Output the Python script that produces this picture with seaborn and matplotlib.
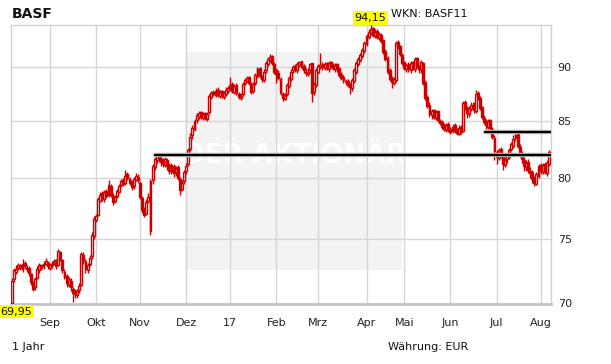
import numpy as np
import pandas as pd
import matplotlib
matplotlib.use("Agg")
import matplotlib.pyplot as plt
from matplotlib.patches import Rectangle
from matplotlib.ticker import FixedLocator, NullLocator, FixedFormatter
import seaborn as sns

# ---------------- data (daily candles, trading-day index) ----------------
open_ = [
70.0, 71.8, 72.4, 72.7, 72.9, 72.6, 73.1, 72.7, 72.7, 72.2,
71.5, 71.2, 71.9, 72.5, 72.9, 72.8, 73.0, 73.1, 72.7, 72.9,
73.1, 73.3, 72.9, 73.9, 73.3, 72.4, 72.1, 71.4, 71.7, 71.1,
70.9, 70.6, 71.0, 71.4, 73.7, 73.2, 72.5, 73.0, 73.6, 75.2,
76.5, 76.9, 78.1, 78.7, 78.2, 78.9, 78.6, 79.3, 78.5, 78.1,
78.5, 78.8, 79.4, 79.8, 79.6, 80.3, 79.9, 79.7, 79.3, 79.8,
80.1, 79.6, 78.3, 77.4, 77.0, 78.1, 75.6, 79.8, 80.9, 81.5,
81.9, 81.6, 81.5, 81.1, 81.5, 81.1, 80.5, 81.0, 80.5, 80.9,
79.9, 79.1, 79.7, 80.6, 81.2, 82.5, 83.7, 84.3, 85.1, 85.4,
85.8, 85.3, 85.7, 85.2, 85.8, 87.2, 87.7, 87.4, 87.9, 87.3,
87.8, 87.2, 87.5, 87.8, 88.1, 88.4, 87.7, 88.3, 87.5, 87.1,
87.5, 88.5, 88.7, 89.1, 88.4, 87.8, 88.5, 89.2, 89.9, 89.1,
88.8, 89.7, 90.3, 90.7, 91.1, 90.3, 89.7, 89.5, 88.9, 87.5,
87.0, 87.5, 88.2, 88.9, 89.7, 90.1, 89.7, 90.2, 90.6, 90.1,
89.6, 89.4, 89.7, 90.4, 87.7, 88.3, 89.6, 90.0, 90.3, 89.9,
90.4, 89.8, 90.5, 90.2, 89.8, 90.3, 89.9, 89.4, 89.1, 88.7,
88.7, 88.4, 88.0, 88.7, 89.6, 90.3, 90.7, 91.1, 91.6, 92.3,
93.0, 93.4, 93.8, 93.1, 93.6, 92.9, 93.2, 92.7, 91.6, 90.9,
89.7, 89.0, 88.5, 88.8, 92.5, 92.1, 91.2, 90.5, 89.8, 90.3,
89.7, 90.5, 89.8, 90.9, 90.0, 89.7, 90.4, 88.6, 87.2, 86.5,
85.5, 86.0, 85.3, 85.9, 85.0, 84.9, 84.6, 84.2, 84.7, 84.3,
84.1, 84.6, 84.2, 83.8, 84.5, 84.1, 86.7, 86.2, 85.6, 86.1,
86.6, 85.9, 87.6, 87.1, 86.3, 85.3, 85.0, 84.5, 85.1, 84.3,
83.5, 82.2, 81.7, 82.5, 81.9, 81.1, 81.6, 81.8, 82.5, 82.8,
83.5, 83.8, 82.7, 82.1, 81.5, 80.9, 81.4, 80.6, 80.5, 80.0,
79.5, 80.2, 81.1, 80.5, 81.2, 80.4, 81.2]

close = [
71.7, 72.5, 72.6, 72.9, 72.7, 73.0, 72.8, 72.6, 72.3, 71.6,
71.1, 71.8, 72.6, 72.9, 72.7, 73.0, 73.2, 72.8, 72.9, 73.0,
73.2, 72.8, 74.0, 73.4, 72.5, 72.0, 71.5, 71.8, 71.2, 70.8,
70.7, 70.9, 71.3, 73.8, 73.3, 72.6, 72.9, 73.5, 75.3, 76.6,
76.8, 78.2, 78.6, 78.3, 78.8, 78.5, 79.4, 78.6, 78.0, 78.4,
78.9, 79.3, 79.7, 79.5, 80.2, 80.0, 79.6, 79.2, 79.9, 80.2,
79.8, 78.4, 77.3, 76.9, 78.0, 78.4, 79.7, 81.0, 81.6, 81.9,
81.7, 81.4, 81.2, 81.6, 81.0, 80.6, 81.1, 80.4, 80.8, 80.0,
79.0, 79.6, 80.5, 81.0, 82.4, 83.6, 84.4, 85.0, 85.5, 85.7,
85.4, 85.6, 85.3, 85.6, 87.3, 87.6, 87.5, 87.8, 87.4, 87.7,
87.3, 87.6, 87.9, 88.0, 88.3, 87.8, 88.2, 87.6, 87.2, 87.3,
88.4, 88.8, 89.0, 88.5, 87.7, 88.4, 89.3, 89.8, 89.2, 88.9,
89.6, 90.4, 90.8, 91.0, 90.4, 89.6, 89.4, 89.0, 87.6, 87.1,
87.4, 88.3, 89.0, 89.6, 90.0, 89.8, 90.3, 90.5, 90.0, 89.7,
89.5, 89.6, 90.3, 87.6, 88.4, 89.7, 90.1, 90.2, 90.0, 90.3,
89.9, 90.4, 90.1, 89.9, 90.2, 89.8, 89.3, 89.0, 88.8, 88.6,
88.3, 88.1, 88.8, 89.7, 90.4, 90.8, 91.2, 91.7, 92.4, 93.1,
93.5, 93.7, 93.2, 93.5, 93.0, 93.3, 92.6, 91.5, 90.8, 89.6,
88.9, 88.6, 88.9, 92.4, 92.0, 91.3, 90.4, 89.9, 90.2, 89.8,
90.4, 89.9, 90.8, 90.1, 89.8, 90.5, 88.5, 87.1, 86.4, 85.6,
85.9, 85.4, 85.8, 85.1, 84.8, 84.5, 84.3, 84.6, 84.2, 84.0,
84.5, 84.1, 83.9, 84.4, 84.0, 86.6, 86.3, 85.7, 86.2, 86.5,
86.0, 87.5, 87.2, 86.2, 85.4, 84.9, 84.6, 85.0, 84.4, 83.6,
82.3, 81.8, 82.4, 82.0, 81.2, 81.5, 81.9, 82.4, 82.9, 83.4,
83.7, 82.8, 82.0, 81.6, 81.0, 81.3, 80.7, 80.4, 79.9, 79.6,
80.3, 81.0, 80.6, 81.1, 80.5, 81.3, 82.2]

high = [
71.9, 72.7, 72.9, 73.1, 73.0, 73.4, 73.2, 72.9, 72.8, 72.3,
71.7, 72.0, 72.8, 73.1, 73.0, 73.2, 73.5, 73.2, 73.1, 73.2,
73.4, 73.4, 74.2, 74.0, 73.4, 72.6, 72.2, 72.0, 71.9, 71.2,
71.1, 71.1, 71.5, 73.9, 73.9, 73.4, 73.1, 73.7, 75.5, 76.8,
77.0, 78.4, 78.8, 78.9, 79.0, 79.1, 79.8, 79.5, 78.7, 78.6,
79.1, 79.5, 79.9, 80.0, 80.7, 80.5, 80.1, 79.8, 80.1, 80.4,
80.3, 79.7, 78.5, 77.6, 78.2, 78.7, 79.9, 81.2, 81.8, 82.0,
82.0, 81.9, 81.7, 81.8, 81.7, 81.3, 81.3, 81.2, 81.0, 81.1,
80.1, 79.8, 80.7, 81.3, 82.6, 83.9, 84.6, 85.2, 85.7, 85.9,
85.9, 85.8, 85.8, 85.8, 87.5, 87.8, 87.9, 88.0, 88.1, 87.9,
87.9, 87.8, 88.1, 88.2, 89.1, 88.6, 88.4, 88.5, 87.7, 87.6,
88.6, 89.0, 89.2, 89.2, 88.6, 88.6, 89.5, 90.0, 90.0, 89.3,
89.8, 90.6, 91.0, 91.3, 91.2, 90.5, 89.9, 89.7, 89.1, 87.7,
87.6, 88.5, 89.2, 89.8, 90.2, 90.3, 90.5, 90.6, 90.6, 90.3,
89.9, 89.9, 90.4, 90.4, 88.6, 89.9, 90.3, 91.4, 90.5, 90.5,
90.5, 90.6, 90.6, 90.4, 90.4, 90.4, 90.0, 89.6, 89.3, 88.9,
88.9, 88.5, 89.0, 89.9, 90.6, 91.0, 91.4, 91.9, 92.6, 93.3,
93.7, 94.15, 93.9, 93.7, 93.7, 93.5, 93.4, 92.8, 91.8, 91.1,
89.9, 89.2, 89.1, 92.6, 92.7, 92.2, 91.4, 90.6, 90.4, 90.5,
90.6, 90.6, 91.0, 91.0, 90.2, 90.7, 90.5, 88.8, 87.4, 86.7,
86.1, 86.1, 86.0, 86.0, 85.2, 85.1, 84.8, 84.8, 84.9, 84.5,
84.7, 84.8, 84.4, 84.6, 84.6, 86.8, 86.9, 86.4, 86.4, 86.7,
86.7, 87.9, 87.8, 87.3, 86.4, 85.5, 85.2, 85.2, 85.2, 84.5,
83.7, 82.4, 82.6, 82.7, 82.1, 81.8, 82.1, 82.6, 83.1, 83.7,
84.1, 83.9, 82.9, 82.3, 81.8, 81.5, 81.6, 80.9, 80.7, 80.2,
80.5, 81.2, 81.3, 81.3, 81.4, 81.5, 82.4]

low = [
69.95, 71.6, 72.2, 72.5, 72.5, 72.4, 72.6, 72.4, 72.1, 71.4,
70.9, 71.0, 71.8, 72.3, 72.5, 72.6, 72.9, 72.6, 72.5, 72.7,
72.9, 72.6, 72.8, 73.2, 72.3, 71.8, 71.2, 71.2, 70.9, 70.1,
70.4, 70.4, 70.8, 71.3, 73.0, 72.3, 72.3, 72.8, 73.4, 75.0,
76.3, 76.8, 78.0, 78.1, 78.0, 78.3, 78.4, 78.4, 77.7, 77.9,
78.3, 78.7, 79.2, 79.3, 79.4, 79.8, 79.4, 79.0, 79.1, 79.7,
79.6, 78.2, 77.1, 76.7, 76.9, 77.9, 75.3, 79.5, 80.7, 81.3,
81.4, 81.0, 80.9, 80.9, 80.7, 80.3, 80.3, 80.1, 80.2, 79.8,
78.6, 78.9, 79.5, 80.3, 81.0, 82.3, 83.4, 84.1, 84.8, 85.2,
85.2, 85.1, 85.1, 85.0, 85.6, 87.0, 87.3, 87.2, 87.2, 87.1,
87.1, 87.0, 87.3, 87.6, 87.9, 87.6, 87.5, 87.4, 87.0, 86.9,
87.3, 88.3, 88.6, 88.3, 87.5, 87.6, 88.3, 89.0, 89.0, 88.6,
88.6, 89.5, 90.1, 90.5, 90.2, 89.4, 88.5, 88.8, 87.4, 86.8,
86.9, 87.3, 88.0, 88.7, 89.5, 89.6, 89.5, 90.0, 89.8, 89.5,
89.2, 89.2, 89.5, 86.7, 87.4, 88.1, 89.4, 89.8, 89.7, 89.7,
89.7, 89.6, 89.9, 89.7, 89.6, 89.6, 89.1, 88.8, 88.5, 88.3,
88.1, 87.5, 87.8, 88.5, 89.4, 90.1, 90.5, 90.9, 91.4, 92.1,
92.8, 93.2, 93.0, 92.9, 92.8, 92.7, 92.4, 91.3, 90.6, 89.4,
88.7, 88.0, 88.3, 88.6, 91.8, 91.1, 90.2, 89.7, 89.6, 89.6,
89.5, 89.7, 89.6, 89.9, 89.5, 89.5, 88.3, 86.9, 86.2, 85.4,
85.2, 85.2, 85.1, 84.9, 84.6, 84.3, 84.1, 84.0, 84.0, 83.8,
83.9, 83.9, 83.7, 83.7, 83.8, 84.0, 86.0, 85.3, 85.4, 85.9,
85.7, 85.7, 86.9, 86.0, 85.2, 84.7, 84.3, 84.3, 84.2, 83.4,
81.5, 81.2, 81.5, 81.7, 80.7, 80.9, 81.3, 81.6, 82.3, 82.6,
83.2, 82.6, 81.8, 81.3, 80.6, 80.6, 80.4, 80.0, 79.6, 79.3,
79.4, 80.0, 80.3, 80.3, 80.3, 80.2, 81.0]

month_pos = [18, 40, 61, 83, 104, 126, 146, 169, 187, 209, 231, 252]
month_labels = ["Sep", "Okt", "Nov", "Dez", "17", "Feb", "Mrz", "Apr", "Mai", "Jun", "Jul", "Aug"]
y_ticks = [70, 75, 80, 85, 90]
level_values = [82.0, 84.0]
level_starts = [68, 225.5]
max_label = "94,15"
min_label = "69,95"

# ---------------- figure ----------------
sns.set_style("white")
plt.rcParams["font.family"] = ["DejaVu Sans"]

df = pd.DataFrame({"idx": np.arange(len(close)), "open": open_, "close": close,
                   "high": high, "low": low})

fig = plt.figure(figsize=(6.11, 3.64), dpi=100)
fig.patch.set_facecolor("white")
ax = fig.add_axes([11 / 611, 60 / 364, 539.7 / 611, 279 / 364])
ax.set_facecolor("white")

ax.set_yscale("log")
ax.set_ylim(69.95, 94.15)
ax.set_xlim(-0.5, 256.8)

# watermark panel
ax.add_patch(Rectangle((0.322, 0.122), 0.402, 0.781, transform=ax.transAxes,
                       facecolor="#f3f3f3", edgecolor="none", zorder=0))
ax.text(0.525, 0.53, "DER AKTIONÄR", transform=ax.transAxes, ha="center", va="center",
        fontsize=19, fontweight="bold", color="white", alpha=0.95, zorder=0.5)

# grid
for p in month_pos:
    ax.axvline(p, color="#d6d6d6", lw=1.0, zorder=1)
for t in y_ticks[1:]:
    ax.axhline(t, color="#d6d6d6", lw=1.0, zorder=1)

red = "#cc0000"
# wicks
ax.vlines(df["idx"], df["low"], df["high"], color=red, lw=1.0, zorder=3)
# bodies
bottoms = np.minimum(df["open"], df["close"])
heights = np.maximum(np.abs(df["close"] - df["open"]), 0.05)
up = df["close"] >= df["open"]
ax.bar(df["idx"][up], heights[up], bottom=bottoms[up], width=0.9,
       facecolor="white", edgecolor=red, linewidth=1.0, zorder=4)
ax.bar(df["idx"][~up], heights[~up], bottom=bottoms[~up], width=0.9,
       facecolor=red, edgecolor=red, linewidth=1.0, zorder=4)

# support / resistance lines
for lv, st in zip(level_values, level_starts):
    sns.lineplot(x=[st, 256.8], y=[lv, lv], color="#bbbbbb", lw=3.2, ax=ax, zorder=5)
    sns.lineplot(x=[st, 256.8], y=[lv, lv], color="black", lw=1.6, ax=ax, zorder=6)

# axes styling
ax.yaxis.set_major_locator(FixedLocator(y_ticks))
ax.yaxis.set_minor_locator(NullLocator())
ax.yaxis.set_major_formatter(FixedFormatter([str(t) for t in y_ticks]))
ax.yaxis.tick_right()
ax.set_xticks(month_pos)
ax.set_xticklabels(month_labels)
ax.tick_params(axis="x", length=0, pad=10, labelsize=8, colors="#222222")
ax.tick_params(axis="y", length=0, pad=5, labelsize=8, colors="#222222")
ax.set_xlabel("")
ax.set_ylabel("")
for s in ["left", "right", "top"]:
    ax.spines[s].set_color("#d0d0d0")
    ax.spines[s].set_linewidth(1.0)
ax.spines["bottom"].set_color("#c4c4c4")
ax.spines["bottom"].set_linewidth(2.0)

# texts
fig.text(12 / 611, 1 - 14 / 364, "BASF", fontsize=10, fontweight="bold", ha="left", va="center", color="#111111")
fig.text(391 / 611, 1 - 14 / 364, "WKN: BASF11", fontsize=8, ha="left", va="center", color="#111111")
fig.text(370.5 / 611, 1 - 18 / 364, max_label, fontsize=8, ha="center", va="center", color="#111111",
         bbox=dict(boxstyle="square,pad=0.15", facecolor="#ffff00", edgecolor="none"))
fig.text(16.5 / 611, 1 - 311.5 / 364, min_label, fontsize=8, ha="center", va="center", color="#111111",
         bbox=dict(boxstyle="square,pad=0.15", facecolor="#ffff00", edgecolor="none"))
fig.text(12 / 611, 1 - 347 / 364, "1 Jahr", fontsize=8, ha="left", va="center", color="#111111")
fig.text(388 / 611, 1 - 347 / 364, "Währung: EUR", fontsize=8, ha="left", va="center", color="#111111")

fig.savefig("out.png", dpi=100, facecolor="white")
